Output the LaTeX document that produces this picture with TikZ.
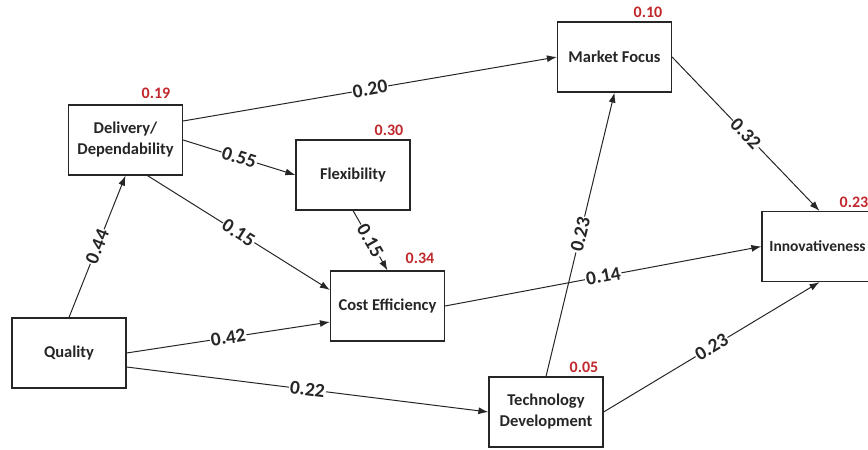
\documentclass[tikz,border=0pt]{standalone}
\usepackage{fontspec}
\setmainfont{Carlito}
\usetikzlibrary{arrows.meta,calc}
\definecolor{rlab}{HTML}{C0282D}
\definecolor{ink}{HTML}{262626}
\tikzset{
  box/.style={draw=ink, line width=1.2pt, fill=white, minimum width=114pt, minimum height=70pt,
    inner sep=2pt, align=center, text=ink, font=\bfseries\fontsize{16.5}{21}\selectfont},
  rtag/.style={text=rlab, inner sep=0pt, font=\bfseries\fontsize{16}{18}\selectfont},
  conn/.style={draw=ink, line width=1pt, -{Latex[length=10pt,width=7pt]}},
  wlab/.style={midway, sloped, fill=white, inner sep=1pt, text=ink, font=\bfseries\fontsize{19.5}{21}\selectfont}
}
\begin{document}
\begin{tikzpicture}[x=1pt,y=-1pt]
\useasboundingbox (0,0) rectangle (868,450);
\node[box] (d) at (125.5,140) {Delivery/\\Dependability};
\node[box] (q) at (69,353) {Quality};
\node[box] (f) at (353,175) {Flexibility};
\node[box] (c) at (387.5,306) {Cost Efficiency};
\node[box] (m) at (614.5,57) {Market Focus};
\node[box, minimum width=115pt, font=\bfseries\fontsize{15.5}{20}\selectfont] (i) at (819.5,246.5) {\hspace*{-4pt}Innovativeness};
\node[box] (t) at (546,412) {Technology\\Development};

\node[rtag] (rd) at (156,93) {0.19};
\node[rtag] (rf) at (389,130) {0.30};
\node[rtag] (rc) at (420,258) {0.34};
\node[rtag] (rm) at (648,12) {0.10};
\node[rtag] (ri) at (854,202) {0.23};
\node[rtag] (rt) at (584,367) {0.05};

\draw[conn] (q.north) -- (d.south) node[wlab] {0.44};
\draw[conn] (d.east) -- (f.west) node[wlab] {0.55};
\draw[conn] ([xshift=22pt]d.south) -- ([yshift=16pt]c.west) node[wlab] {0.15};
\draw[conn] ([yshift=19pt]d.east) -- (m.west) node[wlab] {0.20};
\draw[conn] (f.south) -- (c.north) node[wlab] {0.15};
\draw[conn] (q.east) -- ([yshift=-16pt]c.west) node[wlab] {0.42};
\draw[conn] ([yshift=-14pt]q.east) -- (t.west) node[wlab] {0.22};
\draw[conn] (c.east) -- (i.west) node[wlab] {0.14};
\draw[conn] (t.north) -- (m.south) node[wlab] {0.23};
\draw[conn] (t.east) -- (i.south) node[wlab] {0.23};
\draw[conn] (m.east) -- (i.north) node[wlab] {0.32};
\end{tikzpicture}
\end{document}
